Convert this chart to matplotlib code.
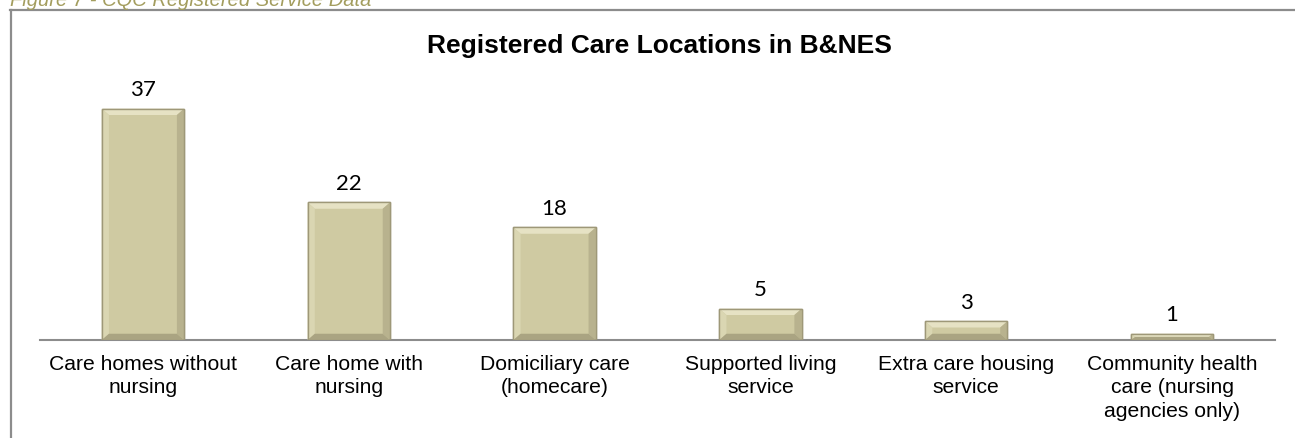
import matplotlib.pyplot as plt
from matplotlib.patches import Polygon
from matplotlib.lines import Line2D

categories = ["Care homes without\nnursing", "Care home with\nnursing", "Domiciliary care\n(homecare)",
              "Supported living\nservice", "Extra care housing\nservice",
              "Community health\ncare (nursing\nagencies only)"]
values = [37, 22, 18, 5, 3, 1]

W, H = 1295, 438
fig = plt.figure(figsize=(W / 100, H / 100), dpi=100)
ax = fig.add_axes([40 / W, 1 - 340 / H, 1235 / W, 250 / H])

bar_color = "#CFCAA2"
bars = ax.bar(range(len(values)), values, width=0.4, color=bar_color,
              edgecolor="#9E9878", linewidth=1.0, zorder=2)

# bevel look: light top/left, dark bottom/right
dx, dy = 0.035, 1.0
for b in bars:
    x0, w, h = b.get_x(), b.get_width(), b.get_height()
    x1, y1 = x0 + w, h
    by = min(dy, h / 2)
    bx = dx if h > 2 * dy else dx * 0.6
    ax.add_patch(Polygon([(x0, y1), (x1, y1), (x1 - bx, y1 - by), (x0 + bx, y1 - by)],
                         closed=True, color="#E6E2C4", lw=0, zorder=3))
    ax.add_patch(Polygon([(x0, 0), (x0, y1), (x0 + bx, y1 - by), (x0 + bx, by)],
                         closed=True, color="#DAD6B2", lw=0, zorder=3))
    ax.add_patch(Polygon([(x1, 0), (x1, y1), (x1 - bx, y1 - by), (x1 - bx, by)],
                         closed=True, color="#B8B28E", lw=0, zorder=3))
    ax.add_patch(Polygon([(x0, 0), (x1, 0), (x1 - bx, by), (x0 + bx, by)],
                         closed=True, color="#AAA482", lw=0, zorder=3))
    ax.add_patch(plt.Rectangle((x0, 0), w, h, fill=False, ec="#9E9878", lw=1.0, zorder=4))

for i, v in enumerate(values):
    ax.annotate(str(v), (i, v), xytext=(0, 6), textcoords="offset points",
                ha="center", va="bottom", fontsize=16, family="Lato", color="black")

ax.set_xlim(-0.5, len(values) - 0.5)
ax.set_ylim(0, 40)
ax.set_yticks([])
ax.set_xticks(range(len(values)))
ax.set_xticklabels(categories, fontsize=15.2, family="Liberation Sans", linespacing=1.28)
ax.tick_params(axis="x", length=0, pad=11)
for s in ["top", "right", "left"]:
    ax.spines[s].set_visible(False)
ax.spines["bottom"].set_color("#8C8C8C")
ax.spines["bottom"].set_linewidth(1.5)
ax.set_facecolor("none")

fig.text(0.5 * (40 + 1275) / W + 2 / W, 1 - 46 / H, "Registered Care Locations in B&NES",
         ha="center", va="center", fontsize=19, fontweight="bold", family="Liberation Sans")

# clipped caption at top
fig.text(10 / W, 1 - 6 / H, "Figure 7 - CQC Registered Service Data", ha="left", va="baseline",
         fontsize=14.5, style="italic", family="Liberation Sans", color="#A39D5E")

# frame lines
fig.add_artist(Line2D([10 / W, 1], [1 - 9.5 / H, 1 - 9.5 / H], color="#8C8C8C", lw=1.6))
fig.add_artist(Line2D([10.5 / W, 10.5 / W], [0, 1 - 9.5 / H], color="#8C8C8C", lw=1.6))

fig.savefig("out.png", dpi=100)
